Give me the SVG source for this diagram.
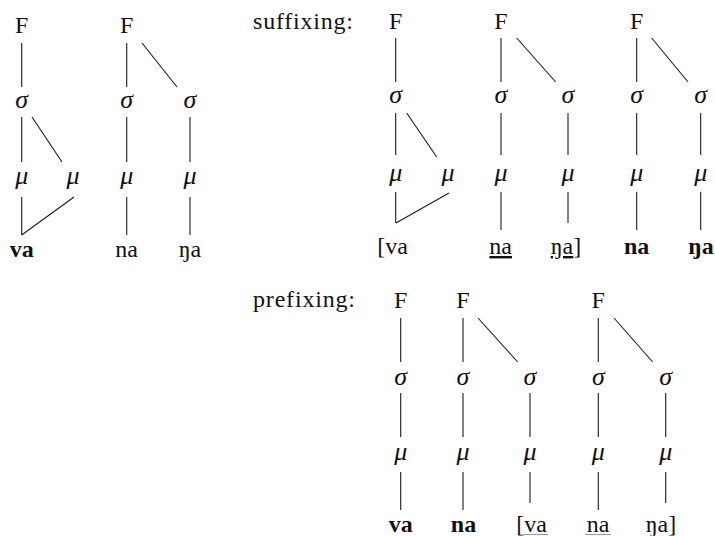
<svg xmlns="http://www.w3.org/2000/svg" width="715" height="536" viewBox="0 0 715 536">
<style>
text{font-family:"Liberation Serif","Times New Roman",serif;font-size:24px;fill:#111;text-anchor:middle}
.lab{text-anchor:start}
.g{font-style:italic;font-size:26px}
.b{font-weight:bold}
.u{text-decoration:underline;text-decoration-skip-ink:none}
#edges line{stroke:#1a1a1a;stroke-width:1.1}
.ul{stroke:#9a9a9a;stroke-width:1}
</style>
<rect width="715" height="536" fill="#fff"/>
<g id="edges">
<line x1="21.7" y1="43" x2="21.7" y2="87"/>
<line x1="126.7" y1="43" x2="126.7" y2="87"/>
<line x1="142" y1="43" x2="177" y2="87"/>
<line x1="21.7" y1="117" x2="21.7" y2="162"/>
<line x1="32" y1="117" x2="62" y2="162"/>
<line x1="126.7" y1="117" x2="126.7" y2="162"/>
<line x1="190" y1="117" x2="190" y2="162"/>
<line x1="21.7" y1="197" x2="21.7" y2="235"/>
<line x1="74" y1="197" x2="21.7" y2="235"/>
<line x1="126.7" y1="197" x2="126.7" y2="235"/>
<line x1="190" y1="197" x2="190" y2="235"/>
<line x1="395.7" y1="38" x2="395.7" y2="82"/>
<line x1="501" y1="38" x2="501" y2="82"/>
<line x1="516.7" y1="38" x2="555.7" y2="82"/>
<line x1="636.7" y1="38" x2="636.7" y2="82"/>
<line x1="651.7" y1="38" x2="688" y2="82"/>
<line x1="395.7" y1="113" x2="395.7" y2="155"/>
<line x1="406.7" y1="113" x2="436.7" y2="157"/>
<line x1="501" y1="113" x2="501" y2="155"/>
<line x1="568" y1="113" x2="568" y2="155"/>
<line x1="636.7" y1="113" x2="636.7" y2="155"/>
<line x1="700.7" y1="113" x2="700.7" y2="155"/>
<line x1="395.7" y1="192" x2="395.7" y2="223"/>
<line x1="449" y1="193" x2="396" y2="223"/>
<line x1="501" y1="192" x2="501" y2="230"/>
<line x1="568" y1="192" x2="568" y2="223"/>
<line x1="636.7" y1="192" x2="636.7" y2="230"/>
<line x1="700.7" y1="192" x2="700.7" y2="230"/>
<line x1="400.7" y1="318" x2="400.7" y2="362"/>
<line x1="463" y1="318" x2="463" y2="362"/>
<line x1="478" y1="318" x2="517.7" y2="362"/>
<line x1="598.3" y1="318" x2="598.3" y2="362"/>
<line x1="614" y1="318" x2="652.7" y2="362"/>
<line x1="400.7" y1="393" x2="400.7" y2="437"/>
<line x1="463" y1="393" x2="463" y2="437"/>
<line x1="530" y1="393" x2="530" y2="437"/>
<line x1="598.3" y1="393" x2="598.3" y2="437"/>
<line x1="665.7" y1="393" x2="665.7" y2="437"/>
<line x1="400.7" y1="472" x2="400.7" y2="510"/>
<line x1="463" y1="472" x2="463" y2="510"/>
<line x1="530" y1="472" x2="530" y2="503"/>
<line x1="598.3" y1="472" x2="598.3" y2="510"/>
<line x1="665.7" y1="472" x2="665.7" y2="503"/>
</g>
<g id="labels">
<text id="lab-suffixing" class="lab" x="253" y="29" textLength="100">suffixing:</text>
<text id="lab-prefixing" class="lab" x="253" y="307" textLength="102">prefixing:</text>
</g>
<g id="tree1">
<g id="t1-F"><text x="21.7" y="33">F</text></g>
<g id="t1-s"><text class="g" x="21.7" y="107.5">σ</text></g>
<g id="t1-m1"><text class="g" x="21.7" y="184">μ</text></g>
<g id="t1-m2"><text class="g" x="73" y="184">μ</text></g>
<g id="t1-va"><text class="b" x="21.7" y="257">va</text></g>
</g>
<g id="tree2">
<g id="t2-F"><text x="126.7" y="33">F</text></g>
<g id="t2-s1"><text class="g" x="126.7" y="107.5">σ</text></g>
<g id="t2-s2"><text class="g" x="190" y="107.5">σ</text></g>
<g id="t2-m1"><text class="g" x="126.7" y="184">μ</text></g>
<g id="t2-m2"><text class="g" x="190" y="184">μ</text></g>
<g id="t2-na"><text x="126.7" y="257">na</text></g>
<g id="t2-nga"><text x="190" y="257">ŋa</text></g>
</g>
<g id="tree3">
<g id="t3-F"><text x="395.7" y="29">F</text></g>
<g id="t3-s"><text class="g" x="395.7" y="103">σ</text></g>
<g id="t3-m1"><text class="g" x="395.7" y="181">μ</text></g>
<g id="t3-m2"><text class="g" x="448" y="181">μ</text></g>
<g id="t3-va"><text x="392.5" y="254">[va</text></g>
</g>
<g id="tree4">
<g id="t4-F"><text x="501" y="29">F</text></g>
<g id="t4-s1"><text class="g" x="501" y="103">σ</text></g>
<g id="t4-s2"><text class="g" x="568" y="103">σ</text></g>
<g id="t4-m1"><text class="g" x="501" y="181">μ</text></g>
<g id="t4-m2"><text class="g" x="568" y="181">μ</text></g>
<g id="t4-na"><text class="u" x="500.7" y="254">na</text></g>
<g id="t4-nga"><text x="566" y="254"><tspan class="u">ŋa</tspan>]</text></g>
</g>
<g id="tree5">
<g id="t5-F"><text x="636.7" y="29">F</text></g>
<g id="t5-s1"><text class="g" x="636.7" y="103">σ</text></g>
<g id="t5-s2"><text class="g" x="700.7" y="103">σ</text></g>
<g id="t5-m1"><text class="g" x="636.7" y="181">μ</text></g>
<g id="t5-m2"><text class="g" x="700.7" y="181">μ</text></g>
<g id="t5-na"><text class="b" x="636.7" y="254">na</text></g>
<g id="t5-nga"><text class="b" x="701" y="254">ŋa</text></g>
</g>
<g id="tree6">
<g id="t6-F"><text x="400.7" y="308">F</text></g>
<g id="t6-s"><text class="g" x="400.7" y="385">σ</text></g>
<g id="t6-m"><text class="g" x="400.7" y="460">μ</text></g>
<g id="t6-va"><text class="b" x="400.7" y="532">va</text></g>
</g>
<g id="tree7">
<g id="t7-F"><text x="463" y="308">F</text></g>
<g id="t7-s1"><text class="g" x="463" y="385">σ</text></g>
<g id="t7-s2"><text class="g" x="530" y="385">σ</text></g>
<g id="t7-m1"><text class="g" x="463" y="460">μ</text></g>
<g id="t7-m2"><text class="g" x="530" y="460">μ</text></g>
<g id="t7-na"><text class="b" x="463.5" y="532">na</text></g>
<g id="t7-va"><text x="531.5" y="532">[va</text><line class="ul" x1="523" y1="534.5" x2="548" y2="534.5"/></g>
</g>
<g id="tree8">
<g id="t8-F"><text x="598.3" y="308">F</text></g>
<g id="t8-s1"><text class="g" x="598.3" y="385">σ</text></g>
<g id="t8-s2"><text class="g" x="665.7" y="385">σ</text></g>
<g id="t8-m1"><text class="g" x="598.3" y="460">μ</text></g>
<g id="t8-m2"><text class="g" x="665.7" y="460">μ</text></g>
<g id="t8-na"><text x="598" y="532">na</text><line class="ul" x1="585" y1="534.5" x2="611" y2="534.5"/></g>
<g id="t8-nga"><text x="661" y="532">ŋa]</text></g>
</g>
</svg>
